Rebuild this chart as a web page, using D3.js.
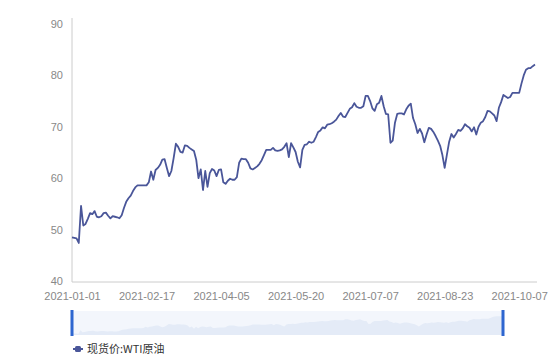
<!DOCTYPE html>
<html>
<head>
<meta charset="utf-8">
<script src="https://cdn.jsdelivr.net/npm/d3@7"></script>
<style>
  body { margin: 0; background: #fff; }
  svg { display: block; font-family: "Noto Sans", "Noto Sans CJK SC", sans-serif; }
</style>
</head>
<body>
<div id="chart"></div>
<script>
// define data
const seriesName = "现货价:WTI原油";
const xTickLabels = ["2021-01-01", "2021-02-17", "2021-04-05", "2021-05-20", "2021-07-07", "2021-08-23", "2021-10-07"];
const xTickIndex = [0, 33, 66, 99, 132, 165, 198];
const yTicks = [40, 50, 60, 70, 80, 90];
const prices = [
    48.5, 48.4, 48.3, 47.4, 54.6, 50.8, 51.1, 52.1, 53.2, 53.0,
    53.6, 52.5, 52.4, 52.6, 53.2, 53.3, 52.7, 52.2, 52.6, 52.5,
    52.4, 52.2, 52.8, 54.2, 55.4, 56.1, 56.6, 57.5, 58.2, 58.6,
    58.6, 58.6, 58.6, 58.6, 59.2, 61.3, 59.7, 61.6, 62.0, 62.6,
    63.6, 63.7, 62.0, 60.4, 61.4, 63.9, 66.7, 66.1, 65.1, 65.0,
    66.4, 66.3, 65.9, 65.6, 65.3, 63.6, 60.0, 61.7, 57.7, 61.4,
    58.3, 61.0, 61.8, 61.5, 60.4, 61.6, 61.7, 59.2, 58.9, 59.5,
    59.9, 59.7, 59.7, 60.2, 63.0, 63.8, 63.7, 63.7, 63.0, 61.9,
    61.7, 62.0, 62.3, 62.8, 63.5, 64.5, 65.5, 65.5, 65.5, 65.9,
    65.4, 65.3, 65.4, 65.6, 66.1, 66.8, 64.1, 66.8, 66.0, 65.1,
    63.2, 62.1, 65.5, 66.5, 66.6, 67.1, 66.9, 67.1, 68.0, 69.0,
    69.3, 69.9, 69.7, 70.4, 70.5, 70.7, 71.0, 71.4, 72.1, 72.7,
    72.0, 71.9, 72.7, 73.5, 73.8, 74.6, 73.9, 73.7, 73.7, 74.0,
    76.0, 76.0, 75.0, 73.6, 73.1, 74.4, 74.7, 76.0, 74.0, 72.5,
    72.4, 66.9, 67.3, 70.8, 72.5, 72.6, 72.6, 72.4, 73.4, 74.1,
    74.5, 71.7, 70.5, 68.8, 69.6, 68.7, 67.0, 68.5, 69.8, 69.6,
    69.0, 68.2, 67.3, 66.3, 64.5, 62.0, 64.6, 67.1, 68.6, 67.9,
    68.6, 69.4, 69.2, 69.7, 70.5, 70.1, 69.8, 69.1, 69.9, 68.5,
    70.0, 70.8, 71.1, 71.9, 73.1, 73.0, 72.6, 72.2, 71.1, 73.7,
    74.8, 76.2, 75.9, 75.6, 75.8, 76.6, 76.6, 76.6, 76.6, 78.4,
    80.0, 81.1, 81.4, 81.4, 81.8, 82.1
];

// define constants
const w = 554;
const h = 362;
const plotLeft = 72, plotRight = 535, plotTop = 24, plotBottom = 281;
const lineColor = "#4a5699";
const svg = d3.select("#chart").append("svg").attr("width", w).attr("height", h);

// define scales
const xScale = d3.scaleLinear().domain([0, prices.length - 1]).range([plotLeft, plotRight]);
const yScale = d3.scaleLinear().domain([40, 90]).range([plotBottom, plotTop]);

// y axis
const yAxis = d3.axisLeft(yScale).tickValues(yTicks).tickSize(0).tickPadding(9);
const gy = svg.append("g").attr("transform", "translate(" + plotLeft + ",0)").call(yAxis);
gy.select(".domain").attr("stroke", "#ccc").attr("d", "M0," + (plotTop - 6) + "V" + (plotBottom + 1));
gy.selectAll("text").attr("fill", "#888").attr("font-size", 11);

// x axis
const xAxis = d3.axisBottom(xScale).tickValues(xTickIndex)
    .tickFormat((d, i) => xTickLabels[i]).tickSize(0).tickPadding(10);
const gx = svg.append("g").attr("transform", "translate(0," + (plotBottom + 1) + ")").call(xAxis);
gx.select(".domain").attr("stroke", "#ccc").attr("d", "M" + plotLeft + ",0H" + (plotRight + 2));
gx.selectAll("text").attr("fill", "#888").attr("font-size", 11);

// line
const line = d3.line()
    .x((d, i) => xScale(i))
    .y((d) => yScale(d));

svg.append("path")
    .datum(prices)
    .attr("fill", "none")
    .attr("stroke", lineColor)
    .attr("stroke-width", 1.8)
    .attr("stroke-linejoin", "round")
    .attr("d", line);

// data zoom slider
const sx0 = 72, sx1 = 503, sy0 = 311, sy1 = 335;
svg.append("rect")
    .attr("x", sx0).attr("y", sy0)
    .attr("width", sx1 - sx0).attr("height", sy1 - sy0)
    .attr("fill", "#f3f6fc");

const sxScale = d3.scaleLinear().domain([0, prices.length - 1]).range([sx0, sx1]);
const syScale = d3.scaleLinear().domain(d3.extent(prices)).range([sy1 - 1, sy0 + 5]);
const area = d3.area()
    .x((d, i) => sxScale(i))
    .y0(sy1)
    .y1((d) => syScale(d));
svg.append("path")
    .datum(prices)
    .attr("fill", "#e4ebf7")
    .attr("d", area);

[sx0, sx1].forEach((x) => {
    svg.append("rect")
        .attr("x", x - 1.5).attr("y", sy0 - 1)
        .attr("width", 3).attr("height", sy1 - sy0 + 2)
        .attr("fill", "#2e66d0");
});

// legend
const legend = svg.append("g").attr("transform", "translate(73,349)");
legend.append("line")
    .attr("x1", 0).attr("x2", 10).attr("y1", 0).attr("y2", 0)
    .attr("stroke", lineColor).attr("stroke-width", 2);
legend.append("rect")
    .attr("x", 2).attr("y", -3).attr("width", 6).attr("height", 6).attr("rx", 1.5)
    .attr("fill", lineColor);
legend.append("text")
    .attr("x", 14).attr("y", 4)
    .attr("font-size", 11)
    .attr("fill", "#333")
    .attr("font-family", "'Noto Sans CJK SC', sans-serif")
    .text(seriesName);
</script>
</body>
</html>
